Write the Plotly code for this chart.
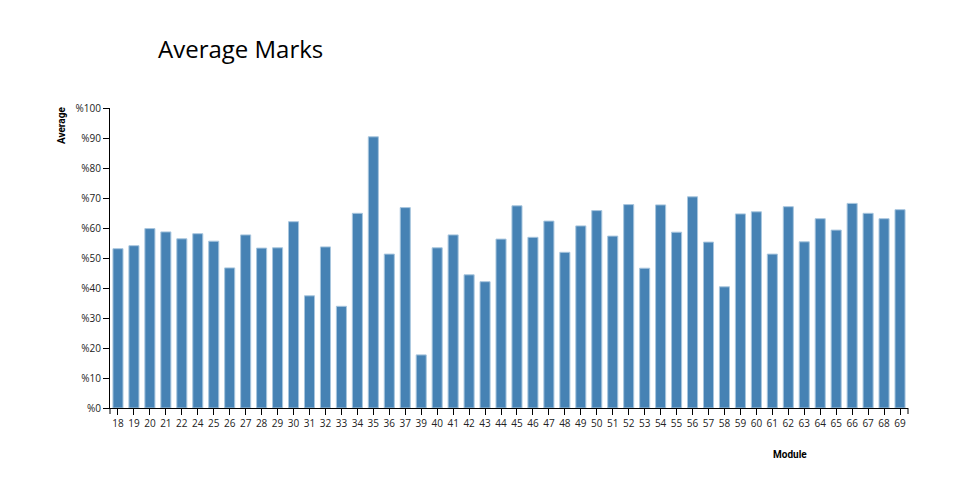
import plotly.graph_objects as go

modules = ["18", "19", "20", "21", "22", "24", "25", "26", "27", "28", "29", "30", "31", "32", "33",
           "34", "35", "36", "37", "39", "40", "41", "42", "43", "44", "45", "46", "47", "48", "49",
           "50", "51", "52", "53", "54", "55", "56", "57", "58", "59", "60", "61", "62", "63", "64",
           "65", "66", "67", "68", "69"]
averages = [53.1, 54.1, 59.8, 58.7, 56.4, 58.1, 55.6, 46.7, 57.7, 53.3, 53.4, 62.1, 37.4, 53.7, 33.9,
            64.9, 90.4, 51.3, 66.8, 17.7, 53.4, 57.7, 44.4, 42.1, 56.3, 67.4, 56.9, 62.3, 51.9, 60.7,
            65.8, 57.3, 67.8, 46.6, 67.7, 58.6, 70.4, 55.3, 40.4, 64.7, 65.4, 51.3, 67.1, 55.4, 63.1,
            59.3, 68.2, 64.9, 63.1, 66.1]
y_ticks = [0, 10, 20, 30, 40, 50, 60, 70, 80, 90, 100]
y_tick_labels = ["%" + str(v) for v in y_ticks]

fig = go.Figure(go.Bar(
    x=modules, y=averages,
    marker=dict(color="#4682b4", line=dict(color="#a8c6de", width=1)),
    hoverinfo="x+y",
))

OFF = 8  # page body margin offset
W, H = 960, 500
L, T = 110 - OFF, 108 - OFF
pw, ph = 798, 300
R, B = W - L - pw, H - T - ph

def px_x(x):
    return (x - OFF - L) / pw

def px_y(y):
    return (T + ph - (y - OFF)) / ph

fig.update_layout(
    width=W, height=H,
    margin=dict(l=L, r=R, t=T, b=B, pad=0),
    plot_bgcolor="white", paper_bgcolor="white",
    bargap=0.37,
    showlegend=False,
    font=dict(family="Open Sans", size=10, color="#222"),
    title=dict(text="Average Marks", x=(158 - OFF) / W, xref="container", xanchor="left",
               y=1 - (50 - OFF) / H, yref="container", yanchor="middle",
               font=dict(family="Open Sans", size=24, color="#000")),
    xaxis=dict(type="category", showline=True, linecolor="black", linewidth=1,
               ticks="outside", ticklen=6, tickcolor="black", showgrid=False,
               tickfont=dict(family="Open Sans", size=10, color="#222"), zeroline=False),
    yaxis=dict(range=[0, 100], tickvals=y_ticks, ticktext=y_tick_labels,
               showline=True, linecolor="black", linewidth=1,
               ticks="outside", ticklen=6, tickcolor="black", showgrid=False,
               tickfont=dict(family="Open Sans", size=10, color="#222"), zeroline=False),
    annotations=[
        dict(text="<b>Average</b>", textangle=-90, xref="paper", yref="paper",
             x=px_x(61), y=px_y(126), showarrow=False,
             xanchor="center", yanchor="middle",
             font=dict(family="Roboto", size=10, color="black")),
        dict(text="<b>Module</b>", xref="paper", yref="paper",
             x=px_x(790), y=px_y(454), showarrow=False,
             xanchor="center", yanchor="middle",
             font=dict(family="Roboto", size=10, color="black")),
    ],
    shapes=[
        dict(type="line", xref="paper", yref="paper", x0=1, x1=1, y0=0, y1=-6 / ph,
             line=dict(color="black", width=1)),
        dict(type="line", xref="paper", yref="paper", x0=0, x1=0, y0=0, y1=-6 / ph,
             line=dict(color="black", width=1)),
    ],
)

fig.write_html("out.html")
